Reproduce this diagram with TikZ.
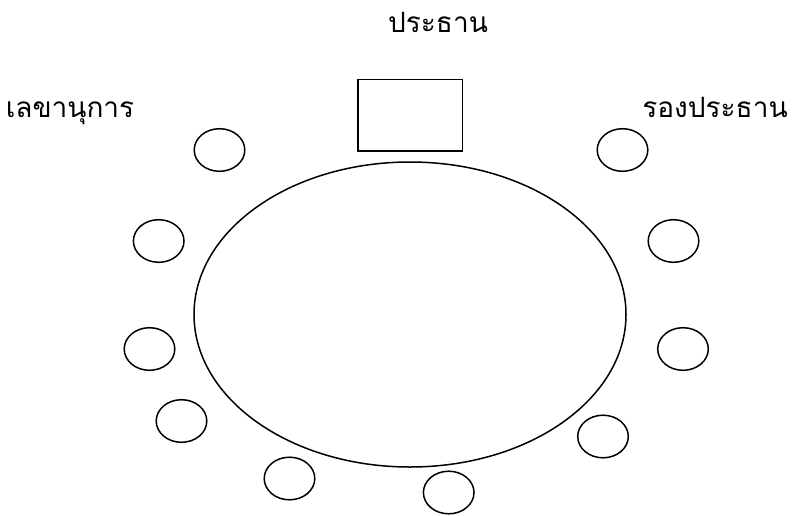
\documentclass[tikz,border=0pt]{standalone}
\usepackage{fontspec}
\newfontfamily\thaifont[Script=Thai]{Loma}
\usetikzlibrary{shapes.geometric}
\begin{document}
\begin{tikzpicture}[x=1pt,y=-1pt,
  seat/.style={draw, ellipse, line width=1.5pt, minimum width=50.6pt, minimum height=42.6pt, inner sep=0pt},
  table/.style={draw, ellipse, line width=1.5pt, minimum width=432pt, minimum height=305pt, inner sep=0pt},
  chair/.style={draw, rectangle, line width=1.6pt, minimum width=104.6pt, minimum height=71.7pt, inner sep=0pt},
  label/.style={font=\thaifont\fontsize{28}{32}\selectfont, anchor=base, inner sep=0pt}]
\useasboundingbox (0,0) rectangle (792,515);
\node[table] (tbl) at (410,314.5) {};
\node[chair] (pres) at (410,115.2) {};
\node[seat] (s1) at (219.5,150) {};
\node[seat] (s2) at (158.7,241) {};
\node[seat] (s3) at (149.5,349) {};
\node[seat] (s4) at (181.5,421) {};
\node[seat] (s5) at (289.5,478.5) {};
\node[seat] (s6) at (448.7,492.5) {};
\node[seat] (s7) at (603,436.5) {};
\node[seat] (s8) at (683,349) {};
\node[seat] (s9) at (673.5,241) {};
\node[seat] (s10) at (622.5,150) {};
\node[label] (tpres) at (438,32.3) {ประธาน};
\node[label] (tsec) at (70,117) {เลขานุการ};
\node[label] (tvice) at (715,117) {รองประธาน};
\end{tikzpicture}
\end{document}
